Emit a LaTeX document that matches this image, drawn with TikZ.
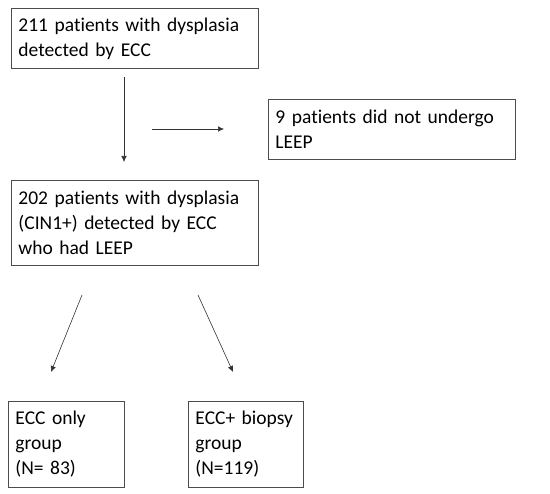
\documentclass[tikz,border=0pt]{standalone}
\usepackage{fontspec}
\setmainfont{Carlito}[Ligatures=NoCommon]
\usetikzlibrary{positioning,arrows.meta}
\tikzset{
  bx/.style={draw=black!70, line width=0.9pt, anchor=north west, align=left,
    inner xsep=7pt, inner ysep=3pt, font=\fontsize{19.5}{25}\selectfont},
  flow/.style={-{Latex[length=6pt, width=5.5pt]}, line width=0.6pt, draw=black!80},
}
\begin{document}
\begin{tikzpicture}[x=1pt, y=-1pt]
  \useasboundingbox (0,0) rectangle (550,494);
  % boxes
  \node[bx, text width=233pt, minimum height=60pt] (pts) at (11,8)
    {211 patients with dysplasia\\detected by ECC};
  \node[bx, text width=233pt, minimum height=60pt] (noleep) at (268,99)
    {9 patients did not undergo\\LEEP};
  \node[bx, text width=233pt, minimum height=85pt] (leep) at (11,180)
    {202 patients with dysplasia\\(CIN1+) detected by ECC\\who had LEEP};
  \node[bx, text width=102pt, minimum height=86pt] (ecc) at (8,401)
    {ECC only\\group\\(N= 83)};
  \node[bx, text width=101pt, minimum height=86pt] (bio) at (188,401)
    {ECC+ biopsy\\group\\(N=119)};
  % arrow ends
  \coordinate (a1) at (124,77);
  \coordinate (a2) at (124,162);
  \coordinate (h1) at (152,129);
  \coordinate (h2) at (224,129);
  \coordinate (l1) at (82,295);
  \coordinate (l2) at (51,372);
  \coordinate (r1) at (198,295);
  \coordinate (r2) at (233,372);
  \draw[flow] (a1) -- (a2);
  \draw[flow] (h1) -- (h2);
  \draw[flow] (l1) -- (l2);
  \draw[flow] (r1) -- (r2);
\end{tikzpicture}
\end{document}
